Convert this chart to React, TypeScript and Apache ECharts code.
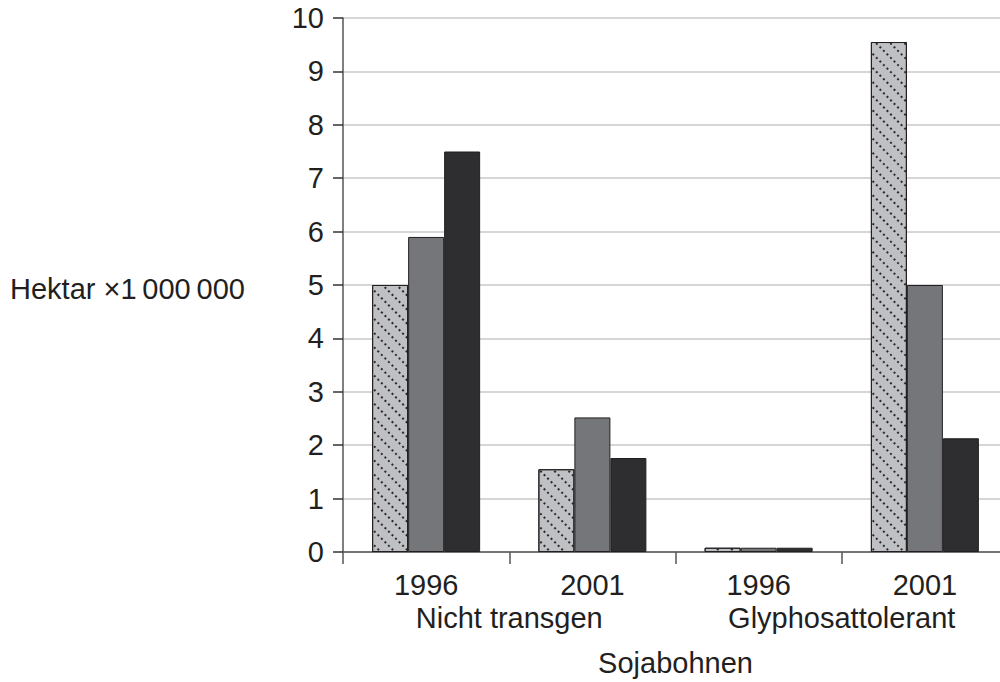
import React, { useEffect, useRef } from "react";
import * as echarts from "echarts";

const years = ["1996", "2001", "1996", "2001"];
const groups = ["Nicht transgen", "Glyphosattolerant"];
const yTicks = [0, 10, 1];
const seriesHatched = [5.0, 1.55, 0.08, 9.55];
const seriesGray = [5.9, 2.52, 0.08, 5.0];
const seriesDark = [7.5, 1.76, 0.08, 2.13];
const yAxisTitle = "Hektar \u00d71\u2009000\u2009000";
const xAxisTitle = "Sojabohnen";

const FONT = "'Liberation Sans', Arial, Helvetica, sans-serif";
const TXT = "#231f20";
const FS = 29;

export default function App() {
  const ref = useRef<HTMLDivElement>(null);
  useEffect(() => {
    if (!ref.current) return;
    const chart = echarts.init(ref.current, null, { renderer: "svg" });
    const gridBox = { left: 343, top: 18, right: 8, bottom: 130 };
    const border = { borderColor: "#231f20", borderWidth: 1 };
    chart.setOption({
      animation: false,
      backgroundColor: "#ffffff",
      textStyle: { fontFamily: FONT, color: TXT },
      grid: [
        { ...gridBox, containLabel: false },
        { ...gridBox, containLabel: false },
      ],
      xAxis: [
        {
          type: "category",
          gridIndex: 0,
          data: years,
          axisLine: { lineStyle: { color: "#555555", width: 1.5 } },
          axisTick: { show: true, length: 12, alignWithLabel: false, lineStyle: { color: "#555555", width: 1.5 } },
          axisLabel: { fontSize: FS, color: TXT, margin: 18, fontFamily: FONT },
          splitLine: { show: false },
        },
        {
          type: "category",
          gridIndex: 1,
          data: groups,
          axisLine: { show: false },
          axisTick: { show: false },
          axisLabel: { fontSize: FS, color: TXT, margin: 52, fontFamily: FONT },
          splitLine: { show: false },
          name: xAxisTitle,
          nameLocation: "middle",
          nameGap: 97,
          nameTextStyle: { fontSize: FS, color: TXT, fontFamily: FONT },
        },
      ],
      yAxis: [
        {
          type: "value",
          gridIndex: 0,
          min: yTicks[0],
          max: yTicks[1],
          interval: yTicks[2],
          axisLine: { show: true, lineStyle: { color: "#555555", width: 1.5 } },
          axisTick: { show: true, length: 10, lineStyle: { color: "#333333", width: 1.5 } },
          axisLabel: { fontSize: FS, color: TXT, margin: 19, fontFamily: FONT },
          splitLine: { show: true, lineStyle: { color: "#c8c8c8", width: 1.5 } },
        },
        {
          type: "value",
          gridIndex: 1,
          min: yTicks[0],
          max: yTicks[1],
          show: false,
        },
      ],
      graphic: [
        {
          type: "text",
          left: 10,
          top: 274,
          style: { text: yAxisTitle, fontSize: FS, fill: TXT, fontFamily: FONT },
        },
      ],
      series: [
        {
          type: "bar",
          xAxisIndex: 0,
          yAxisIndex: 0,
          data: seriesHatched,
          barWidth: 36,
          barGap: "0%",
          itemStyle: {
            color: "#bfc0c3",
            ...border,
            decal: {
              symbol: "rect",
              symbolSize: 1,
              color: "#2a2a2a",
              dashArrayX: [2, 3],
              dashArrayY: [1.3, 8],
              rotation: Math.PI / 4,
            },
          },
        },
        {
          type: "bar",
          xAxisIndex: 0,
          yAxisIndex: 0,
          data: seriesGray,
          barWidth: 36,
          barGap: "0%",
          itemStyle: { color: "#75767a", ...border },
        },
        {
          type: "bar",
          xAxisIndex: 0,
          yAxisIndex: 0,
          data: seriesDark,
          barWidth: 36,
          barGap: "0%",
          itemStyle: { color: "#2e2d2f", ...border },
        },
      ],
    });
    return () => chart.dispose();
  }, []);
  return (
    <div style={{ position: "absolute", left: 0, top: 0, width: 1000, height: 682, overflow: "hidden" }}>
      <div ref={ref} style={{ width: 1016, height: 682 }} />
    </div>
  );
}
